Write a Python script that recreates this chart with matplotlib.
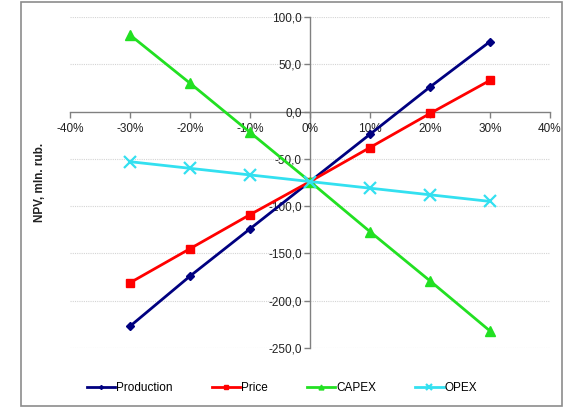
# NPV sensitivity chart: NPV vs. change of each input parameter
import matplotlib.pyplot as plt
from matplotlib.patches import Rectangle
from matplotlib.ticker import FuncFormatter

plt.rcParams['font.family'] = ['Liberation Sans', 'DejaVu Sans']

changes = [-30, -20, -10, 0, 10, 20, 30]
production = [-227, -174, -124, -74, -24, 26, 74]
price = [-181, -145, -109, -74, -38, -2, 33]
capex = [81, 30, -22, -74, -127, -179, -232]
opex = [-53, -60, -67, -74, -81, -88, -95]

series = [
    ("Production", production, "#000080", "D", 4, 1.0),
    ("Price", price, "#ff0000", "s", 6, 1.0),
    ("CAPEX", capex, "#22e022", "^", 7, 1.0),
    ("OPEX", opex, "#33e0f0", "x", 9, 1.6),
]

fig = plt.figure(figsize=(5.64, 4.08), dpi=100)
ax = fig.add_axes([70 / 564, 1 - 348 / 408, 480 / 564, 331 / 408])

# outer chart frame
fig.patches.append(Rectangle((21 / 564, 0.004), 541 / 564, 0.99, transform=fig.transFigure,
                             fill=False, edgecolor="#8c8c8c", linewidth=1.2))

for name, vals, col, mk, ms, mew in series:
    ax.plot(changes, vals, color=col, linewidth=2, marker=mk, markersize=ms,
            markeredgewidth=mew, markeredgecolor=col, markerfacecolor=col, label=name,
            clip_on=False)

ax.set_xlim(-40, 40)
ax.set_ylim(-250, 100)
ax.set_xticks(range(-40, 41, 10))
ax.set_yticks(range(-250, 101, 50))
ax.xaxis.set_major_formatter(FuncFormatter(lambda v, p: f"{int(v)}%"))
ax.yaxis.set_major_formatter(FuncFormatter(lambda v, p: f"{v:.1f}".replace(".", ",")))

# axes cross at zero
ax.spines["left"].set_position(("data", 0))
ax.spines["bottom"].set_position(("data", 0))
ax.spines["right"].set_visible(False)
ax.spines["top"].set_visible(False)
for s in ("left", "bottom"):
    ax.spines[s].set_color("#808080")
    ax.spines[s].set_linewidth(1.0)
    ax.spines[s].set_zorder(1)

ax.tick_params(axis="both", colors="#808080", labelcolor="#222222", labelsize=8.5,
               length=4, width=1.0, direction="out")
ax.tick_params(axis="x", pad=4)
ax.tick_params(axis="y", pad=2)

for y in [100, 50, -50, -100, -150, -200, -250]:
    ax.axhline(y, color="#d4d4d4", linewidth=0.8, linestyle=(0, (1, 1)), zorder=0)

fig.text(40 / 564, 1 - 182 / 408, "NPV, mln. rub.", rotation=90, ha="center", va="center",
         fontsize=8.5, fontweight="bold", color="#222222")

fig.legend(loc="center", bbox_to_anchor=(0.5, 1 - 388 / 408), ncol=4, frameon=False,
           fontsize=8.5, handlelength=2.4, handletextpad=0.1, columnspacing=3.3,
           markerscale=0.5)

fig.savefig("out.png", dpi=100)
